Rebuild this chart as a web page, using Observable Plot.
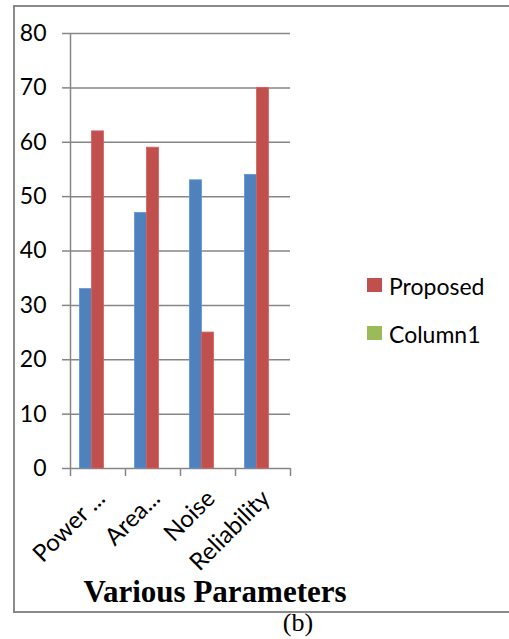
<!DOCTYPE html>
<html>
<head>
<meta charset="utf-8">
<script src="https://cdn.jsdelivr.net/npm/d3@7"></script>
<script src="https://cdn.jsdelivr.net/npm/@observablehq/plot@0.6"></script>
<style>
  html, body { margin: 0; padding: 0; background: #fff; }
  body { position: relative; width: 509px; height: 639px; overflow: hidden; }
  #frame { position: absolute; left: 13px; top: 5px; width: 620px; height: 608px;
           border: 2px solid #8a8a8a; border-right: none; box-sizing: border-box; }
  #chart { position: absolute; left: 0; top: 0; }
  .leg { position: absolute; font-family: Lato, sans-serif; font-size: 23px; line-height: 22px; color: #000; white-space: nowrap; }
  .sw { position: absolute; width: 15px; height: 14px; }
  #title { position: absolute; left: 0; width: 430px; text-align: center; top: 576px;
           font-family: "Liberation Serif", serif; font-weight: bold; font-size: 31px; line-height: 31px; color: #000; }
  #cap { position: absolute; left: 248px; width: 100px; text-align: center; top: 610px;
         font-family: "Liberation Serif", serif; font-size: 26px; line-height: 26px; color: #000; }
</style>
</head>
<body>
<div id="frame"></div>
<div id="chart"></div>
<div id="legend"></div>
<div id="title">Various Parameters</div>
<div id="cap">(b)</div>
<script>
const categories = ["Power ...", "Area...", "Noise", "Reliability"];
const seriesNames = ["Existing", "Proposed", "Column1"];
const existingValues = [33, 47, 53, 54];
const proposedValues = [62, 59, 25, 70];
const column1Values = [null, null, null, null];
const seriesColors = ["#4F81BD", "#C0504D", "#9BBB59"];
const legendEntries = ["Proposed", "Column1"];
const yTicks = [0, 10, 20, 30, 40, 50, 60, 70, 80];

const W = 300, H = 560, mL = 70, mR = 10, mT = 33, mB = 92;
const bandPx = (W - mL - mR) / categories.length;
const slot = d3.scaleBand().domain(seriesNames).range([0, bandPx]).paddingInner(0).paddingOuter(0.79);

const valuesBySeries = [existingValues, proposedValues, column1Values];
const grid = "#868686";

const barMarks = seriesNames.map((s, j) => {
  const data = categories.map((c, i) => ({i, category: c, series: s, value: valuesBySeries[j][i]}))
    .filter(d => d.value != null);
  return Plot.rectY(data, {
    x1: d => d.i, x2: d => d.i + 1, y: "value",
    fill: seriesColors[j],
    stroke: d3.color(seriesColors[j]).brighter(0.4).formatHex(), strokeWidth: 0.8,
    insetLeft: slot(s),
    insetRight: bandPx - slot(s) - slot.bandwidth()
  });
});

const chart = Plot.plot({
  width: W, height: H,
  marginLeft: mL, marginRight: mR, marginTop: mT, marginBottom: mB,
  style: { fontFamily: "Lato, sans-serif", background: "transparent", overflow: "visible" },
  x: { type: "linear", domain: [0, categories.length], axis: null },
  y: { domain: [0, 80], axis: null },
  marks: [
    Plot.ruleY(yTicks, { stroke: grid, strokeWidth: 1.5 }),
    ...barMarks,
    Plot.ruleX([0], { y1: 0, y2: 80, stroke: grid, strokeWidth: 1.5 }),
    Plot.axisY({ ticks: yTicks, tickSize: 8, tickPadding: 16, stroke: grid, strokeWidth: 1.5,
                 fill: "#000", fontSize: 23, label: null, tickFormat: d => String(d) }),
    Plot.axisX({ ticks: d3.range(categories.length + 1), tickSize: 8, tickFormat: () => "",
                 stroke: grid, strokeWidth: 1.5, label: null }),
    Plot.axisX({ ticks: categories.map((c, i) => i + 0.5), tickSize: 0, tickRotate: -45,
                 tickPadding: 26, dx: 3, fill: "#000", fontSize: 24, label: null,
                 tickFormat: v => categories[Math.floor(v)] })
  ]
});
document.getElementById("chart").appendChild(chart);

const legend = document.getElementById("legend");
legendEntries.forEach((name, k) => {
  const j = seriesNames.indexOf(name);
  const sw = document.createElement("div");
  sw.className = "sw";
  sw.style.left = "367px";
  sw.style.top = (278 + k * 48) + "px";
  sw.style.background = seriesColors[j];
  legend.appendChild(sw);
  const t = document.createElement("div");
  t.className = "leg";
  t.style.left = "389px";
  t.style.top = (275 + k * 48) + "px";
  t.textContent = name;
  legend.appendChild(t);
});
</script>
</body>
</html>
